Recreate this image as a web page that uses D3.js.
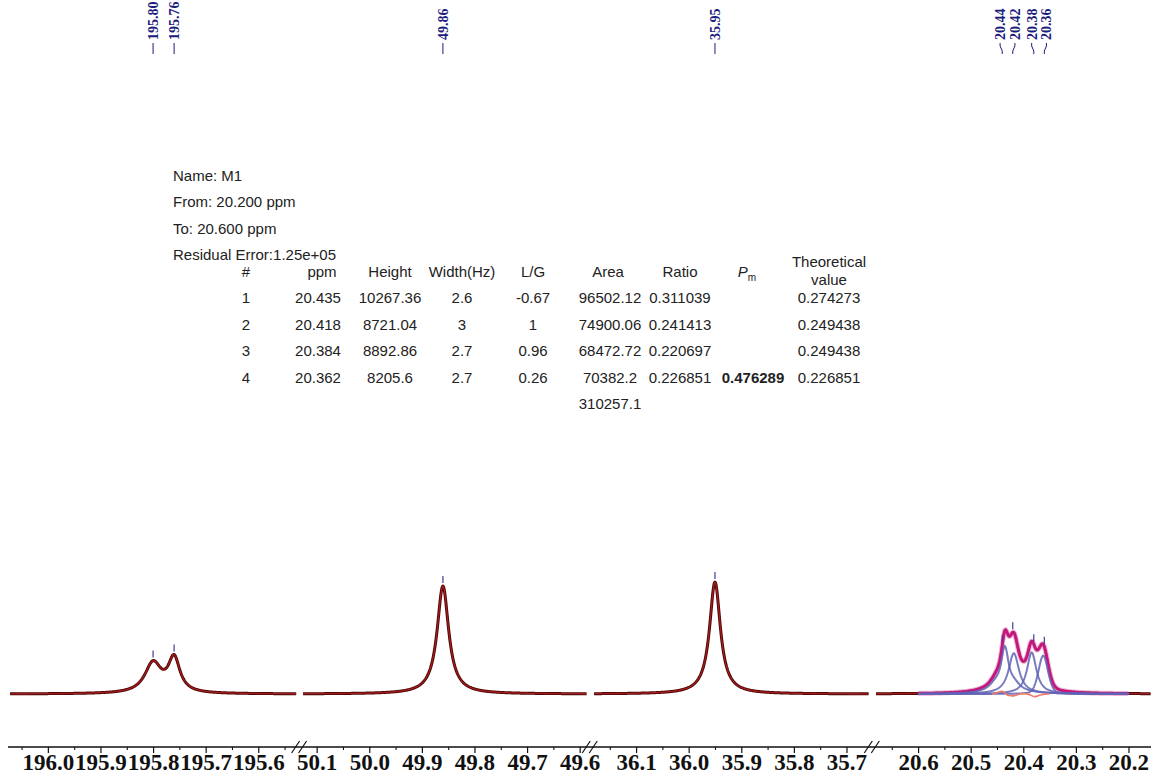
<!DOCTYPE html>
<html>
<head>
<meta charset="utf-8">
<script src="https://cdn.jsdelivr.net/npm/d3@7"></script>
<style>
  body { margin: 0; background: #fff; }
  svg { display: block; }
</style>
</head>
<body>
<svg id="chart" width="1153" height="776"></svg>
<script>
// ---------------- data ----------------
// ppm window of each broken-axis segment (left edge, right edge)
const panelDomains = [[196.072, 195.528], [50.126, 49.587], [36.18, 35.658], [20.68, 20.158]];
const majorTicks = [
  [196.0, 195.9, 195.8, 195.7, 195.6],
  [50.1, 50.0, 49.9, 49.8, 49.7, 49.6],
  [36.1, 36.0, 35.9, 35.8, 35.7],
  [20.6, 20.5, 20.4, 20.3, 20.2]
];
const minorTicks = [
  [196.05, 195.95, 195.85, 195.75, 195.65, 195.55],
  [50.05, 49.95, 49.85, 49.75, 49.65],
  [36.15, 36.05, 35.95, 35.85, 35.75],
  [20.65, 20.55, 20.45, 20.35, 20.25]
];

// single resonances of the carbonyl, CH and CH2 regions (Lorentzian lines)
const signalPpm    = [195.80, 195.76, 49.86, 35.95];
const signalHeight = [6420, 7270, 23100, 23960];
const signalFwhm   = [0.038, 0.0266, 0.0266, 0.025];   // ppm

// deconvolution of the methyl region (line fitting result)
const fitName = "M1";
const fitRange = [20.200, 20.600];
const residualError = "1.25e+05";
const fitNo       = [1, 2, 3, 4];
const fitPpm      = [20.435, 20.418, 20.384, 20.362];
const fitHeight   = [10267.36, 8721.04, 8892.86, 8205.6];
const fitWidthHz  = [2.6, 3, 2.7, 2.7];
const fitLG       = [-0.67, 1, 0.96, 0.26];
const fitArea     = [96502.12, 74900.06, 68472.72, 70382.2];
const fitRatio    = [0.311039, 0.241413, 0.220697, 0.226851];
const theoretical = [0.274273, 0.249438, 0.249438, 0.226851];
const pmValue     = 0.476289;
const totalArea   = 310257.1;

// fit residual (experimental - fit) under the methyl multiplet
const residualPpm = [20.46, 20.45, 20.44, 20.435, 20.43, 20.425, 20.42, 20.41, 20.40, 20.39, 20.385, 20.38, 20.375, 20.37, 20.36, 20.35];
const residualVal = [0, 250, 700, 300, -400, -250, -500, -100, 150, 0, -300, -600, -550, -250, 0, 0];

// picked peaks labelled above the spectrum
const pickedPpm = [195.80, 195.76, 49.86, 35.95, 20.44, 20.42, 20.38, 20.36];

const specFreqMHz = 125; // 13C observe frequency, converts Hz widths to ppm

// ---------------- layout ----------------
const svg = d3.select("#chart");
const baseY = 694, axisY = 747;
const pxPerPpm = 526;
const panelStarts = [10, 303, 594, 876];

const xScales = panelDomains.map((d, i) =>
  d3.scaleLinear().domain(d).range([panelStarts[i], panelStarts[i] + (d[0] - d[1]) * pxPerPpm]));
const yScale = d3.scaleLinear().domain([0, 25000]).range([baseY, baseY - 25000 * 0.004675]);

// ---------------- line shapes ----------------
// pseudo-Voigt; a negative L/G gives a line with wings broader than a pure Lorentzian
function pseudoVoigt(ppm, center, height, fwhm, lg) {
  const hw = fwhm / 2, u = (ppm - center) / hw;
  const eta = lg >= 0 ? Math.min(1, lg) : 1 - lg;
  return height * (eta / (1 + u * u) + (1 - eta) * Math.exp(-Math.LN2 * u * u));
}
function component(k, ppm) {
  return pseudoVoigt(ppm, fitPpm[k], fitHeight[k], fitWidthHz[k] / specFreqMHz, fitLG[k]);
}
function fitSum(ppm) {
  return d3.sum(fitNo, (n, k) => component(k, ppm));
}
function spectrum(ppm) {
  const s = d3.sum(signalPpm, (c, k) => pseudoVoigt(ppm, c, signalHeight[k], signalFwhm[k], 1));
  return s + fitSum(ppm);
}
function grid(a, b, n) { return d3.range(n + 1).map(i => a + (b - a) * i / n); }

function panelIndex(ppm) {
  return panelDomains.findIndex(d => ppm <= d[0] && ppm >= d[1]);
}

// ---------------- spectra ----------------
const gSpec = svg.append("g");
panelDomains.forEach((d, i) => {
  const x = xScales[i];
  const pts = grid(d[0], d[1], Math.round((d[0] - d[1]) * pxPerPpm * 2));
  const line = d3.line().x(p => x(p)).y(p => yScale(spectrum(p)));
  gSpec.append("path").attr("d", line(pts))
    .attr("fill", "none").attr("stroke", "#4a0606").attr("stroke-width", 3).attr("stroke-linejoin", "round");
  gSpec.append("path").attr("d", line(pts))
    .attr("fill", "none").attr("stroke", "#a41c1c").attr("stroke-width", 1.3).attr("stroke-linejoin", "round");
});

// deconvolution overlay in the methyl segment
(function () {
  const x = xScales[3];
  const pts = grid(fitRange[1], fitRange[0], 500);
  const sumLine = d3.line().x(p => x(p)).y(p => yScale(fitSum(p)));
  gSpec.append("path").attr("d", sumLine(pts))
    .attr("fill", "none").attr("stroke", "#e87cc0").attr("stroke-width", 5).attr("opacity", 0.6);
  gSpec.append("path").attr("d", sumLine(pts))
    .attr("fill", "none").attr("stroke", "#c8127e").attr("stroke-width", 2.4);
  fitNo.forEach((n, k) => {
    const cl = d3.line().x(p => x(p)).y(p => yScale(component(k, p)));
    gSpec.append("path").attr("d", cl(pts))
      .attr("fill", "none").attr("stroke", "#6064b4").attr("stroke-width", 2).attr("opacity", 0.85);
  });
  const resLine = d3.line().x(p => x(p)).y((p, j) => yScale(residualVal[j])).curve(d3.curveBasis);
  gSpec.append("path").attr("d", resLine(residualPpm))
    .attr("fill", "none").attr("stroke", "#f07a68").attr("stroke-width", 1.6);
})();

// peak-pick ticks above the maxima
pickedPpm.forEach(p => {
  const i = panelIndex(p);
  const x = xScales[i](p);
  const top = yScale(spectrum(p));
  svg.append("line").attr("x1", x).attr("x2", x).attr("y1", top - 3).attr("y2", top - 10)
    .attr("stroke", "#3d3d92").attr("stroke-width", 1.2);
});

// ---------------- peak labels along the top ----------------
function spreadLabels(xs, gap) {
  const out = xs.slice();
  for (let it = 0; it < 100; it++) {
    let moved = false;
    for (let i = 1; i < out.length; i++) {
      const d = out[i] - out[i - 1];
      if (d < gap - 0.01) { const s = (gap - d) / 2; out[i - 1] -= s; out[i] += s; moved = true; }
    }
    if (!moved) break;
  }
  return out;
}
const peakX = pickedPpm.map(p => xScales[panelIndex(p)](p));
const labelX = spreadLabels(peakX, 14.8);
const gLab = svg.append("g");
pickedPpm.forEach((p, k) => {
  gLab.append("text")
    .attr("transform", `translate(${labelX[k]},40) rotate(-90)`)
    .attr("dy", "0.35em")
    .attr("text-anchor", "start")
    .attr("font-family", "'Liberation Serif','Times New Roman',serif")
    .attr("font-weight", "bold").attr("font-size", 14)
    .attr("fill", "#1c1c7c")
    .text(d3.format(".2f")(p));
  gLab.append("path")
    .attr("d", `M${labelX[k]},43 L${labelX[k]},46 L${peakX[k]},51 L${peakX[k]},54`)
    .attr("fill", "none").attr("stroke", "#1c1c7c").attr("stroke-width", 1);
});

// ---------------- broken x axis ----------------
const gAxis = svg.append("g").attr("transform", `translate(0,${axisY})`);
gAxis.append("line").attr("x1", 8).attr("x2", 1151).attr("y1", 0).attr("y2", 0)
  .attr("stroke", "#111").attr("stroke-width", 1.3);
xScales.forEach((x, i) => {
  const major = gAxis.append("g").call(
    d3.axisBottom(x).tickValues(majorTicks[i]).tickSize(6).tickPadding(1).tickFormat(d3.format(".1f")));
  major.select(".domain").remove();
  major.selectAll("line").attr("stroke", "#111").attr("stroke-width", 1.2);
  major.selectAll("text")
    .attr("font-family", "'Liberation Serif','Times New Roman',serif")
    .attr("font-weight", "bold").attr("font-size", 23).attr("fill", "#111");
  const minor = gAxis.append("g").call(
    d3.axisBottom(x).tickValues(minorTicks[i]).tickSize(3).tickFormat(""));
  minor.select(".domain").remove();
  minor.selectAll("line").attr("stroke", "#111").attr("stroke-width", 1.1);
});
// break marks between segments
for (let i = 0; i < xScales.length - 1; i++) {
  const gx = (xScales[i].range()[1] + xScales[i + 1].range()[0]) / 2;
  [-4, 3].forEach(o => {
    gAxis.append("line").attr("x1", gx + o - 4).attr("y1", 6).attr("x2", gx + o + 4).attr("y2", -6)
      .attr("stroke", "#111").attr("stroke-width", 1.2);
  });
}

// ---------------- fit report table ----------------
const gTab = svg.append("g")
  .attr("font-family", "'Liberation Sans',Arial,sans-serif").attr("font-size", 15).attr("fill", "#222");
const fmt3 = d3.format(".3f");
const infoLines = [
  `Name: ${fitName}`,
  `From: ${fmt3(fitRange[0])} ppm`,
  `To: ${fmt3(fitRange[1])} ppm`,
  `Residual Error:${residualError}`
];
infoLines.forEach((t, k) => {
  gTab.append("text").attr("x", 173).attr("y", 181 + k * 26.4).text(t);
});

const colX = [246, 318, 390, 462, 533, 610, 680, 753, 829];
const headX = [246, 322, 390, 462, 533, 608, 680];
const headY = 277, rowY0 = 303, rowStep = 26.5;
["#", "ppm", "Height", "Width(Hz)", "L/G", "Area", "Ratio"].forEach((h, c) => {
  gTab.append("text").attr("x", headX[c]).attr("y", headY).attr("text-anchor", "middle").text(h);
});
const pmHead = gTab.append("text").attr("x", colX[7] - 6).attr("y", headY).attr("text-anchor", "middle");
pmHead.append("tspan").attr("font-style", "italic").text("P");
pmHead.append("tspan").attr("font-size", 10).attr("dy", 4).text("m");
gTab.append("text").attr("x", colX[8]).attr("y", headY - 10).attr("text-anchor", "middle").text("Theoretical");
gTab.append("text").attr("x", colX[8]).attr("y", headY + 8).attr("text-anchor", "middle").text("value");

fitNo.forEach((n, k) => {
  const y = rowY0 + k * rowStep;
  const cells = [n, fitPpm[k], fitHeight[k], fitWidthHz[k], fitLG[k], fitArea[k], fitRatio[k]];
  cells.forEach((v, c) => {
    gTab.append("text").attr("x", colX[c]).attr("y", y).attr("text-anchor", "middle").text(String(v));
  });
  gTab.append("text").attr("x", colX[8]).attr("y", y).attr("text-anchor", "middle").text(String(theoretical[k]));
});
gTab.append("text").attr("x", colX[7]).attr("y", rowY0 + 3 * rowStep).attr("text-anchor", "middle")
  .attr("font-weight", "bold").text(String(pmValue));
gTab.append("text").attr("x", colX[5]).attr("y", rowY0 + 4 * rowStep).attr("text-anchor", "middle")
  .text(String(totalArea));
</script>
</body>
</html>
